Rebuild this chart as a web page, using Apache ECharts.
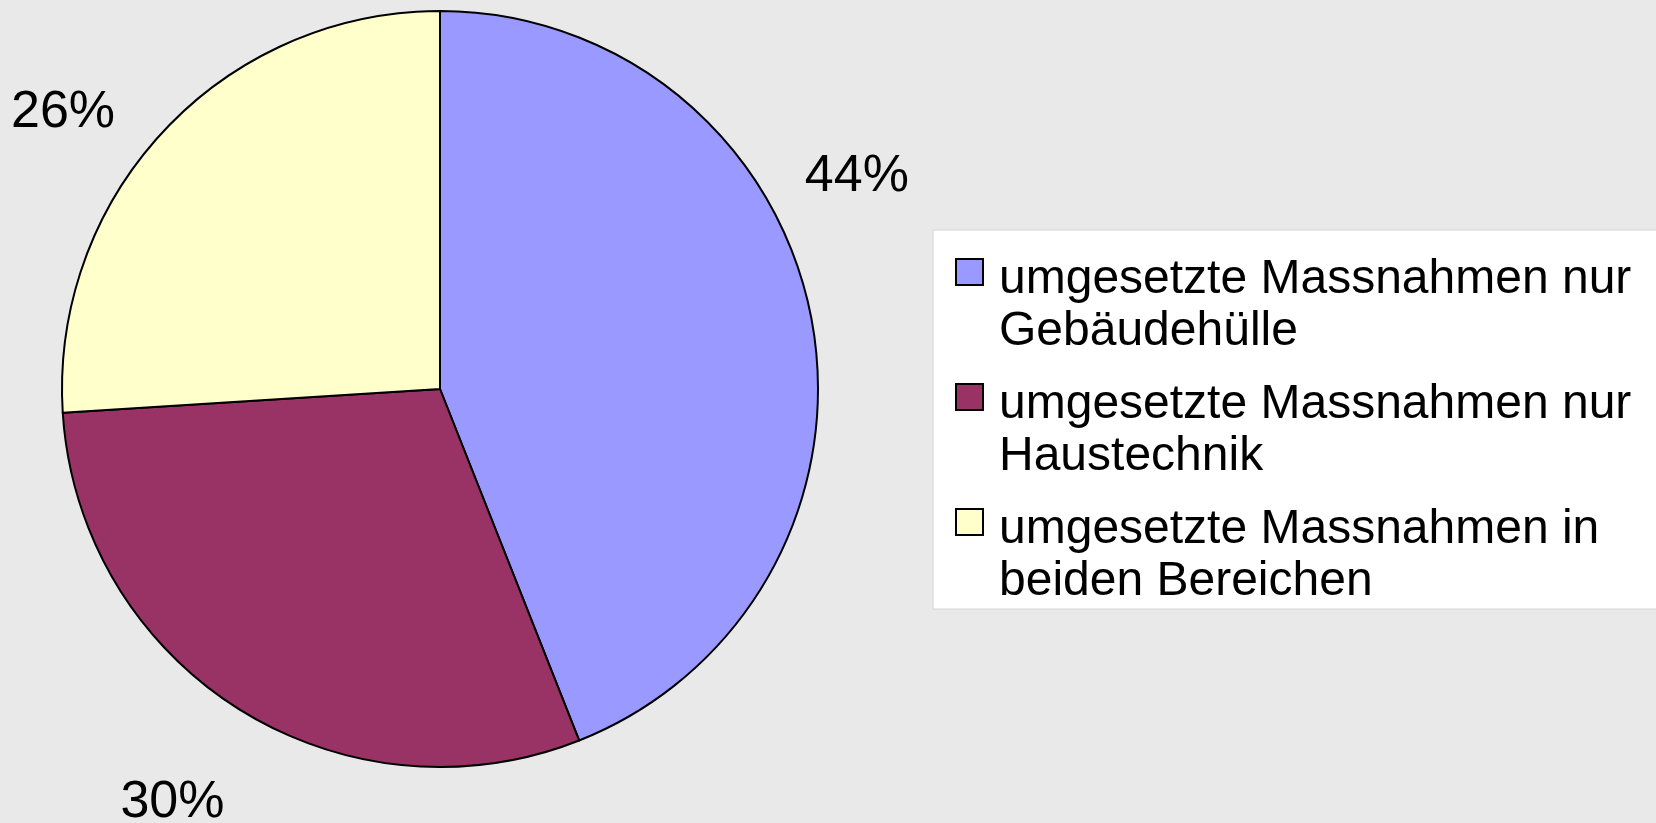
<!DOCTYPE html>
<html>
<head>
  <meta charset="utf-8"/>
  <title>Umgesetzte Massnahmen</title>
  <style>
    html, body { margin: 0; padding: 0; background: #e9e9e9; }
    #main { width: 1656px; height: 823px; }
  </style>
  <script src="https://cdn.jsdelivr.net/npm/echarts@6/dist/echarts.min.js"></script>
</head>
<body>
<div id="main"></div>
<script type="text/javascript">
// data
var categories = [
  'umgesetzte Massnahmen nur Gebäudehülle',
  'umgesetzte Massnahmen nur Haustechnik',
  'umgesetzte Massnahmen in beiden Bereichen'
];
var legendLines = [
  ['umgesetzte Massnahmen nur', 'Gebäudehülle'],
  ['umgesetzte Massnahmen nur', 'Haustechnik'],
  ['umgesetzte Massnahmen in', 'beiden Bereichen']
];
var values = [44, 30, 26];
var colors = ['#9999ff', '#993366', '#ffffcc'];
// label nudges (px) so the labels sit where the original put them
var labelShift = [[-67, -136], [35, 71], [4, 2]];

var chart = echarts.init(document.getElementById('main'));

// legend icon is drawn as a rich text box so it lines up with the first text line
var rich = {
  t: {
    fontSize: 48, lineHeight: 52, height: 36, verticalAlign: 'bottom',
    color: '#000', fontFamily: 'Liberation Sans', padding: [0, 0, 0, 17]
  },
  pad: { width: 25, height: 24 }
};
colors.forEach(function(c, i){
  rich['b' + i] = { width: 25, height: 24, backgroundColor: c, borderColor: '#000', borderWidth: 2 };
});

var option = {
  backgroundColor: '#e9e9e9',
  animation: false,
  legend: {
    orient: 'vertical',
    left: 933,
    top: 230,
    itemWidth: 0,
    itemHeight: 0,
    icon: 'rect',
    itemGap: 15,
    padding: [16, 60, 3, 18],
    backgroundColor: '#ffffff',
    borderColor: '#d4d4d4',
    borderWidth: 1,
    selectedMode: false,
    data: categories,
    formatter: function(name){
      var i = categories.indexOf(name);
      return '{b' + i + '|}{t|' + legendLines[i][0] + '}\n{pad|}{t|' + legendLines[i][1] + '}';
    },
    textStyle: { rich: rich, fontSize: 48, lineHeight: 52 }
  },
  series: [{
    type: 'pie',
    center: [440, 389],
    radius: 378,
    startAngle: 90,
    clockwise: true,
    avoidLabelOverlap: false,
    itemStyle: { borderColor: '#000', borderWidth: 2 },
    label: {
      show: true,
      position: 'outside',
      formatter: '{d}%',
      fontSize: 52,
      fontFamily: 'Liberation Sans',
      color: '#000'
    },
    labelLine: { show: false, length: 28, length2: 28 },
    labelLayout: function(params){
      var s = labelShift[params.dataIndex];
      return { dx: s[0], dy: s[1] };
    },
    emphasis: { disabled: true },
    data: categories.map(function(name, i){
      return { name: name, value: values[i], itemStyle: { color: colors[i] } };
    })
  }]
};

chart.setOption(option);
</script>
</body>
</html>
